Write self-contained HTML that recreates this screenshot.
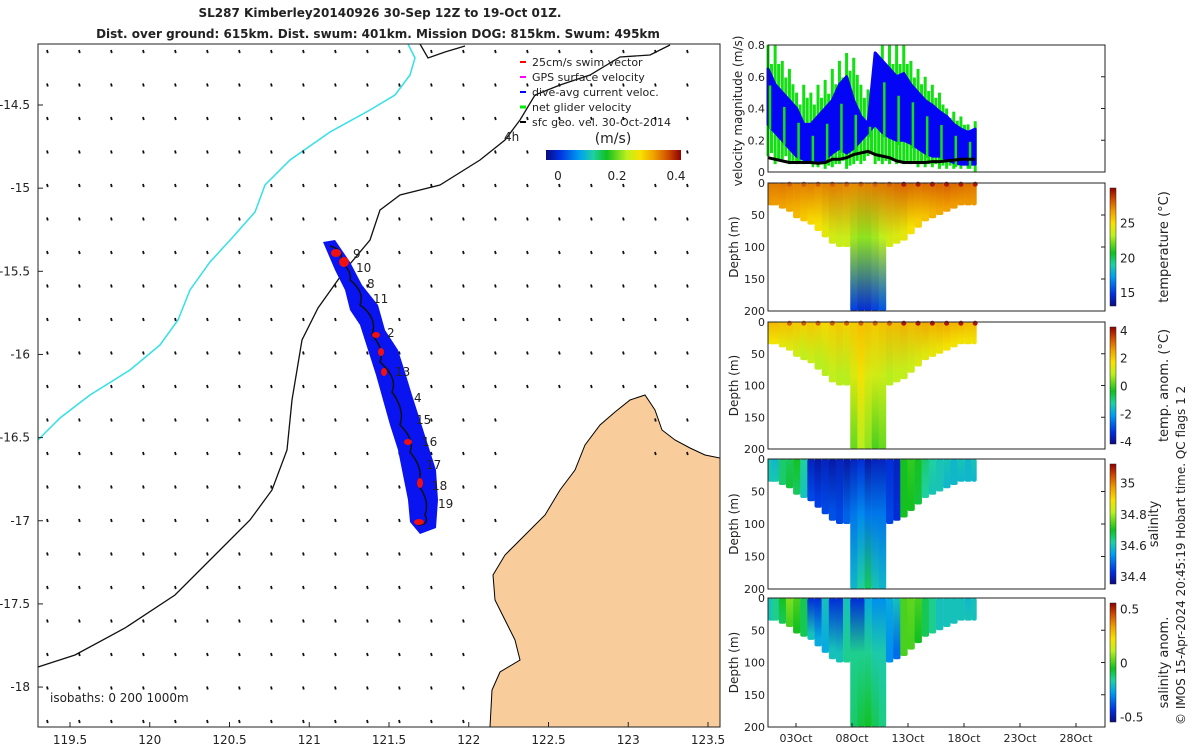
<!DOCTYPE html>
<html><head><meta charset="utf-8"><style>
body{margin:0;background:#fff;width:1200px;height:750px;overflow:hidden;font-family:"Liberation Sans","DejaVu Sans",sans-serif}
svg text{font-family:"DejaVu Sans","Liberation Sans",sans-serif;fill:#222}
</style></head><body>
<svg id="c" width="1200" height="750" xmlns="http://www.w3.org/2000/svg">
<defs id="defs"></defs>
<text x="380" y="17" font-size="12" font-weight="bold" text-anchor="middle">SL287 Kimberley20140926 30-Sep 12Z to 19-Oct 01Z.</text>
<text x="378" y="38" font-size="12" font-weight="bold" text-anchor="middle">Dist. over ground: 615km. Dist. swum: 401km. Mission DOG: 815km. Swum: 495km</text>
<g id="map">
<rect x="38" y="44" width="682" height="683" fill="#fff"/>
<path d="M490,727 L492,690 L500,672 L520,660 L515,640 L505,620 L495,600 L493,575 L505,555 L525,535 L545,515 L560,490 L575,470 L585,445 L600,425 L615,412 L630,400 L645,395 L655,410 L662,430 L675,440 L690,448 L705,455 L720,458 L720,727 Z" fill="#f9cd9b" stroke="#000" stroke-width="1"/>
<path d="M38,440 L60,418 L90,395 L130,370 L160,345 L178,320 L190,290 L210,262 L232,238 L255,212 L265,185 L290,160 L330,132 L370,110 L395,95 L410,75 L415,58 L408,44" fill="none" stroke="#33e0e8" stroke-width="1.5"/>
<path d="M670,45 L650,55 L620,57 L590,75 L560,85 L535,95 L520,120 L505,140 L480,160 L440,185 L400,195 L380,210 L370,240 L345,270 L318,308 L302,340 L292,400 L287,450 L272,490 L250,520 L215,555 L175,595 L125,628 L75,655 L38,667" fill="none" stroke="#111" stroke-width="1.3"/>
<path d="M420,44 L428,58 L445,52 L465,46" fill="none" stroke="#111" stroke-width="1.3"/>
<g id="arrows"></g>
<path d="M323,242 L335,240 L350,262 L362,285 L378,305 L385,330 L398,350 L405,372 L412,395 L420,420 L428,445 L436,470 L438,500 L436,528 L420,534 L410,522 L408,500 L403,475 L398,450 L390,425 L383,400 L376,375 L368,350 L360,325 L350,310 L345,290 L335,270 Z" fill="#0a14f0"/>
<path d="M330,246 Q345,250 340,262 Q352,270 350,280 Q365,292 360,305 Q378,318 372,335 Q385,350 380,362 Q398,378 392,392 Q405,410 400,425 Q415,440 410,452 Q425,470 418,485 Q430,500 425,515 Q430,525 418,525" fill="none" stroke="#111" stroke-width="1.5"/>
<g fill="#f01010">
<ellipse cx="336" cy="253" rx="5" ry="4"/><ellipse cx="344" cy="262" rx="5" ry="5"/><ellipse cx="376" cy="335" rx="4" ry="3"/><ellipse cx="381" cy="352" rx="3" ry="4"/><ellipse cx="384" cy="372" rx="3" ry="4"/><ellipse cx="408" cy="442" rx="4" ry="3"/><ellipse cx="420" cy="483" rx="3" ry="5"/><ellipse cx="419" cy="522" rx="5" ry="3"/>
</g>
<g font-size="12">
<text x="353" y="258">9</text><text x="356" y="272">10</text><text x="367" y="288">8</text><text x="373" y="303">11</text><text x="387" y="337">2</text><text x="395" y="376">13</text><text x="414" y="402">4</text><text x="416" y="424">15</text><text x="422" y="446">16</text><text x="426" y="469">17</text><text x="432" y="490">18</text><text x="438" y="508">19</text><text x="504" y="141">4h</text>
</g>
<g font-size="11">
<line x1="520" y1="62" x2="526" y2="62" stroke="#f00" stroke-width="2"/><text x="532" y="66">25cm/s swim vector</text>
<line x1="520" y1="77" x2="526" y2="77" stroke="#f0f" stroke-width="2"/><text x="532" y="81">GPS surface velocity</text>
<line x1="520" y1="92" x2="526" y2="92" stroke="#00f" stroke-width="2"/><text x="532" y="96">dive-avg current veloc.</text>
<line x1="520" y1="107" x2="526" y2="107" stroke="#0e0" stroke-width="3"/><text x="532" y="111">net glider velocity</text>
<line x1="520" y1="122" x2="526" y2="122" stroke="#000" stroke-width="2"/><text x="532" y="126">sfc geo. vel. 30-Oct-2014</text>
<text x="613" y="143" font-size="14" text-anchor="middle">(m/s)</text>
<rect id="cbmap" x="546" y="150" width="135" height="10"/>
<text x="558" y="180" font-size="12" text-anchor="middle">0</text><text x="617" y="180" font-size="12" text-anchor="middle">0.2</text><text x="676" y="180" font-size="12" text-anchor="middle">0.4</text>
</g>
<text x="50" y="702" font-size="12">isobaths: 0   200   1000m</text>
<rect x="38" y="44" width="682" height="683" fill="none" stroke="#222"/>
<g id="mapticks" font-size="12"></g>
</g>
<g id="right"></g>
<text transform="translate(1185,725) rotate(-90)" font-size="12">© IMOS 15-Apr-2024 20:45:19 Hobart time. QC flags 1  2</text>
</svg>
<script>
const NS='http://www.w3.org/2000/svg';
function mk(p,t,a){const e=document.createElementNS(NS,t);for(const k in a)e.setAttribute(k,a[k]);p.appendChild(e);return e;}
const CM=[[0,[10,10,128]],[0.1,[0,48,224]],[0.25,[0,160,240]],[0.35,[32,208,160]],[0.45,[16,192,32]],[0.6,[190,240,30]],[0.7,[248,224,0]],[0.8,[240,160,0]],[0.9,[208,80,0]],[1,[144,0,0]]];
function jet(v){v=Math.max(0,Math.min(1,v));for(let i=1;i<CM.length;i++){if(v<=CM[i][0]){const a=CM[i-1],b=CM[i],f=(v-a[0])/(b[0]-a[0]);return 'rgb('+a[1].map((c,k)=>Math.round(c+(b[1][k]-c)*f)).join(',')+')';}}return 'rgb(144,0,0)';}
const defs=document.getElementById('defs');
(function(){const g=mk(defs,'linearGradient',{id:'gjet',x1:0,x2:1,y1:0,y2:0});for(let i=0;i<=20;i++)mk(g,'stop',{offset:i/20,'stop-color':jet(i/20)});document.getElementById('cbmap').setAttribute('fill','url(#gjet)');})();
const lonTicks=[119.5,120,120.5,121,121.5,122,122.5,123,123.5];
const latTicks=[-14.5,-15,-15.5,-16,-16.5,-17,-17.5,-18];
const lonX=l=>70+(l-119.5)*159.5, latY=l=>105+(-14.5-l)*166.3;
const mt=document.getElementById('mapticks');
lonTicks.forEach(l=>{const t=mk(mt,'text',{x:lonX(l),y:744,'text-anchor':'middle'});t.textContent=String(l);


mk(mt,'line',{x1:lonX(l),x2:lonX(l),y1:727,y2:722,stroke:'#222'});});
latTicks.forEach(l=>{const t=mk(mt,'text',{x:30,y:latY(l)+4,'text-anchor':'end'});t.textContent=String(l);


mk(mt,'line',{x1:38,x2:43,y1:latY(l),y2:latY(l),stroke:'#222'});});
const ag=document.getElementById('arrows');
for(let y=50;y<725;y+=33.5)for(let x=47;x<715;x+=32){
 if(x>495 && y>400+Math.max(0,(x-600))*0.1 && !(x>650&&y<470)) continue;
 if(x>480 && y>560) continue;
 const a=mk(ag,'line',{x1:x,y1:y,x2:x+0.8,y2:y+3,stroke:'#111','stroke-width':1.8});
 
 
}
const tDays=[];for(let i=0;i<30;i++)tDays.push(i*18.5/29);
const greenHi=[0.8,0.8,0.7,0.65,0.5,0.55,0.5,0.55,0.58,0.65,0.7,0.75,0.72,0.55,0.52,0.65,0.8,0.8,0.8,0.8,0.7,0.65,0.6,0.55,0.5,0.4,0.38,0.35,0.3,0.32];
const greenLo=[0.1,0.05,0.08,0.05,0.05,0.05,0.05,0.03,0.02,0.03,0.05,0.02,0.05,0.05,0.1,0.05,0.05,0.05,0.05,0.05,0.05,0.03,0.03,0.03,0.02,0.02,0.02,0.02,0.02,0.0];
const blueHi=[0.65,0.55,0.5,0.45,0.4,0.3,0.3,0.35,0.4,0.45,0.55,0.6,0.45,0.35,0.3,0.75,0.7,0.65,0.6,0.62,0.55,0.5,0.45,0.42,0.38,0.35,0.3,0.27,0.25,0.27];
const blueLo=[0.3,0.25,0.2,0.15,0.1,0.08,0.06,0.06,0.08,0.12,0.15,0.12,0.15,0.2,0.25,0.3,0.25,0.22,0.2,0.2,0.18,0.15,0.12,0.1,0.1,0.08,0.06,0.05,0.05,0.05];
const geoVel=[0.09,0.08,0.07,0.06,0.06,0.06,0.06,0.055,0.06,0.08,0.08,0.09,0.11,0.12,0.13,0.11,0.1,0.09,0.07,0.06,0.06,0.06,0.06,0.065,0.065,0.07,0.075,0.08,0.08,0.08];
const maxDepth=[35,35,40,45,55,60,65,75,85,95,100,100,200,200,200,200,200,100,95,90,80,70,60,55,50,45,40,35,35,35];
const tempTop=[27.4,27.4,27.5,27.4,27.3,27.3,27.4,27.2,27.3,27.4,27.3,27.2,27.1,27.2,27.3,27.4,27.5,27.6,27.8,27.9,27.8,27.7,27.8,27.8,27.9,28,27.8,27.7,27.6,27.5];
const tempMid=[26.8,26.7,26.6,26.3,26,25.6,25.2,24.8,24.3,23.8,23.5,23.5,22.8,22.5,22.5,22.8,23.2,23.7,24,24.3,24.8,25.3,25.7,26.1,26.4,26.6,26.7,26.8,26.8,26.8];
const tempBot=[26.8,26.7,26.6,26.3,26,25.6,25.2,24.8,24.3,23.8,23.5,23.5,15,14.5,14.5,15,15.5,23.7,24,24.3,24.8,25.3,25.7,26.1,26.4,26.6,26.7,26.8,26.8,26.8];
const anomTop=[2.2,2.2,2.1,2.1,2.0,1.9,2.0,1.9,1.8,1.9,2.0,1.9,2.0,2.1,2.1,2.0,2.1,2.2,2.2,2.3,2.2,2.3,2.4,2.3,2.4,2.4,2.3,2.3,2.2,2.2];
const anomMid=[1.6,1.6,1.4,1.3,1.1,0.9,1.0,0.8,0.8,0.9,0.8,0.8,1.2,1.6,1.2,1.1,1.0,0.8,0.9,0.9,1.0,1.2,1.3,1.4,1.5,1.6,1.6,1.6,1.6,1.6];
const anomBot=[1.6,1.6,1.4,1.3,1.1,0.9,1.0,0.8,0.8,0.9,0.8,0.8,0.2,0.8,0.5,0.0,0.2,0.8,0.9,0.9,1.0,1.2,1.3,1.4,1.5,1.6,1.6,1.6,1.6,1.6];
const salTop=[34.6,34.58,34.65,34.66,34.7,34.62,34.4,34.38,34.4,34.38,34.4,34.38,34.4,34.42,34.38,34.4,34.4,34.42,34.4,34.7,34.72,34.7,34.65,34.62,34.6,34.6,34.58,34.6,34.58,34.6];
const salMid=[34.6,34.6,34.65,34.68,34.66,34.6,34.45,34.44,34.45,34.46,34.45,34.48,34.5,34.52,34.5,34.5,34.5,34.45,34.42,34.7,34.7,34.68,34.62,34.6,34.6,34.58,34.58,34.58,34.58,34.58];
const salBot=[34.6,34.6,34.65,34.68,34.66,34.6,34.45,34.44,34.45,34.46,34.45,34.48,34.58,34.62,34.66,34.6,34.58,34.45,34.42,34.7,34.7,34.68,34.62,34.6,34.6,34.58,34.58,34.58,34.58,34.58];
const sanTop=[-0.2,-0.15,-0.05,0.05,0.0,-0.1,-0.45,-0.45,-0.2,-0.45,-0.45,-0.2,-0.45,-0.45,-0.25,-0.3,-0.3,-0.25,-0.2,0.0,0.02,0.0,-0.1,-0.15,-0.2,-0.2,-0.2,-0.2,-0.22,-0.2];
const sanMid=[-0.2,-0.15,-0.1,0.0,-0.05,-0.1,-0.2,-0.25,-0.25,-0.2,-0.2,-0.15,-0.15,-0.15,-0.15,-0.18,-0.18,-0.3,-0.35,0.0,0.0,-0.05,-0.1,-0.15,-0.2,-0.2,-0.2,-0.2,-0.2,-0.2];
const sanBot=[-0.2,-0.15,-0.1,0.0,-0.05,-0.1,-0.2,-0.25,-0.25,-0.2,-0.2,-0.15,-0.12,-0.08,-0.06,-0.1,-0.14,-0.3,-0.35,0.0,0.0,-0.05,-0.1,-0.15,-0.2,-0.2,-0.2,-0.2,-0.2,-0.2];
const dateTicks=['03Oct','08Oct','13Oct','18Oct','23Oct','28Oct'];
const dateTickDays=[2.5,7.5,12.5,17.5,22.5,27.5];
const PX0=768,PX1=1105,PPD=11.2;
const tx=d=>PX0+d*PPD;
const R=document.getElementById('right');
function frame(y0,y1,name){const r=mk(R,'rect',{x:PX0,y:y0,width:PX1-PX0,height:y1-y0,fill:'none',stroke:'#222'});

}
function ylab(txt,y0,y1,x){const t=mk(R,'text',{transform:`translate(${x},${(y0+y1)/2}) rotate(-90)`,'font-size':12,'text-anchor':'middle'});t.textContent=txt;

}
const vy0=45,vy1=172,vy=v=>vy1-v*(vy1-vy0)/0.8;
[0,0.2,0.4,0.6,0.8].forEach(v=>{const t=mk(R,'text',{x:765,y:vy(v)+4,'font-size':11,'text-anchor':'end'});t.textContent=String(v);


mk(R,'line',{x1:PX1,x2:PX1-4,y1:vy(v),y2:vy(v),stroke:'#222'});});
tDays.forEach((d,i)=>{const x=tx(d);
 const g=mk(R,'line',{x1:x,x2:x,y1:vy(greenHi[i]),y2:vy(greenLo[i]),stroke:'#11e011','stroke-width':3});
 
 
 if(i<29){const g2=mk(R,'line',{x1:x+3.5,x2:x+3.5,y1:vy(greenHi[i]*0.85),y2:vy(greenLo[i]+0.02),stroke:'#11e011','stroke-width':3});
 
 }
});
const bp=tDays.map((d,i)=>tx(d)+','+vy(blueHi[i])).concat(tDays.map((d,i)=>tx(d)+','+vy(blueLo[i])).reverse()).join(' ');
const bpoly=mk(R,'polygon',{points:bp,fill:'#0505f5',stroke:'#0505f5','stroke-width':3,'stroke-linejoin':'round'});


tDays.forEach((d,i)=>{if(i%2==0){const x=tx(d)+2;const gl=mk(R,'line',{x1:x,x2:x,y1:vy(blueHi[i]*0.7+blueLo[i]*0.3),y2:vy(Math.max(0,blueLo[i]-0.03)),stroke:'#11e011','stroke-width':2.5});
 
 }});
const gp=mk(R,'polyline',{points:tDays.map((d,i)=>tx(d)+','+vy(geoVel[i])).join(' '),fill:'none',stroke:'#000','stroke-width':3});


frame(vy0,vy1,'velocity-panel-frame');
ylab('velocity magnitude (m/s)',vy0-10,vy1+15,742);
const panels=[
 {y0:183,y1:311,top:tempTop,mid:tempMid,bot:tempBot,lo:13,hi:30,label:'temperature (°C)',ticks:[15,20,25],name:'temperature'},
 {y0:322,y1:449,top:anomTop,mid:anomMid,bot:anomBot,lo:-4.2,hi:4.2,label:'temp. anom. (°C)',ticks:[-4,-2,0,2,4],name:'temp-anomaly'},
 {y0:459,y1:589,top:salTop,mid:salMid,bot:salBot,lo:34.35,hi:35.12,label:'salinity',ticks:[34.4,34.6,34.8,35],name:'salinity'},
 {y0:598,y1:727,top:sanTop,mid:sanMid,bot:sanBot,lo:-0.55,hi:0.55,label:'salinity anom.',ticks:[-0.5,0,0.5],name:'salinity-anomaly'}];
panels.forEach((P,pi)=>{
 const dy=z=>P.y0+z*(P.y1-P.y0)/200;
 const nrm=v=>(v-P.lo)/(P.hi-P.lo);
 tDays.forEach((d,i)=>{
  const D=maxDepth[i];
  const id='g'+pi+'_'+i;const g=mk(defs,'linearGradient',{id:id,x1:0,x2:0,y1:0,y2:1});
  mk(g,'stop',{offset:0,'stop-color':jet(nrm(P.top[i]))});
  mk(g,'stop',{offset:Math.min(1,100/D)*0.85,'stop-color':jet(nrm(P.mid[i]))});
  mk(g,'stop',{offset:1,'stop-color':jet(nrm(P.bot[i]))});
  const x=tx(d)-(i==0?0:3.5);
  const r=mk(R,'rect',{x:x,y:dy(0),width:i==29?5:7.4,height:dy(D)-dy(0),fill:`url(#${id})`,rx:2});
  
  
 });
 if(pi<2){tDays.forEach((d,i)=>{if(i%2==1&&i>2){const c=mk(R,'circle',{cx:tx(d),cy:dy(2),r:2.5,fill:i>18?'#b01810':'#d06010'});}});}
 frame(P.y0,P.y1,P.name+'-panel-frame');
 [0,50,100,150,200].forEach(z=>{const t=mk(R,'text',{x:765,y:dy(z)+4,'font-size':11,'text-anchor':'end'});t.textContent=String(z);
 
 
 mk(R,'line',{x1:PX1,x2:PX1-4,y1:dy(z),y2:dy(z),stroke:'#222'});});
 ylab('Depth (m)',P.y0,P.y1,738);
 const cy0=P.y0+5,cy1=P.y1-5;const id='cb'+pi;const g=mk(defs,'linearGradient',{id:id,x1:0,x2:0,y1:1,y2:0});
 for(let k=0;k<=20;k++)mk(g,'stop',{offset:k/20,'stop-color':jet(k/20)});
 const cb=mk(R,'rect',{x:1110,y:cy0,width:6,height:cy1-cy0,fill:`url(#${id})`,stroke:'#222','stroke-width':0.5});
 
 
 P.ticks.forEach(v=>{const y=cy1-nrm(v)*(cy1-cy0);const t=mk(R,'text',{x:1120,y:y+5,'font-size':12});t.textContent=String(v);
 
 });
 const t=mk(R,'text',{transform:`translate(${pi==2?1158:1168},${(P.y0+P.y1)/2}) rotate(-90)`,'font-size':13,'text-anchor':'middle'});t.textContent=P.label;
 
 
});
dateTicks.forEach((s,i)=>{const x=tx(dateTickDays[i]);mk(R,'line',{x1:x,x2:x,y1:727,y2:723,stroke:'#222'});
 const t=mk(R,'text',{x:x,y:742,'font-size':11,'text-anchor':'middle'});t.textContent=s;
 
 });
</script>
</body></html>
